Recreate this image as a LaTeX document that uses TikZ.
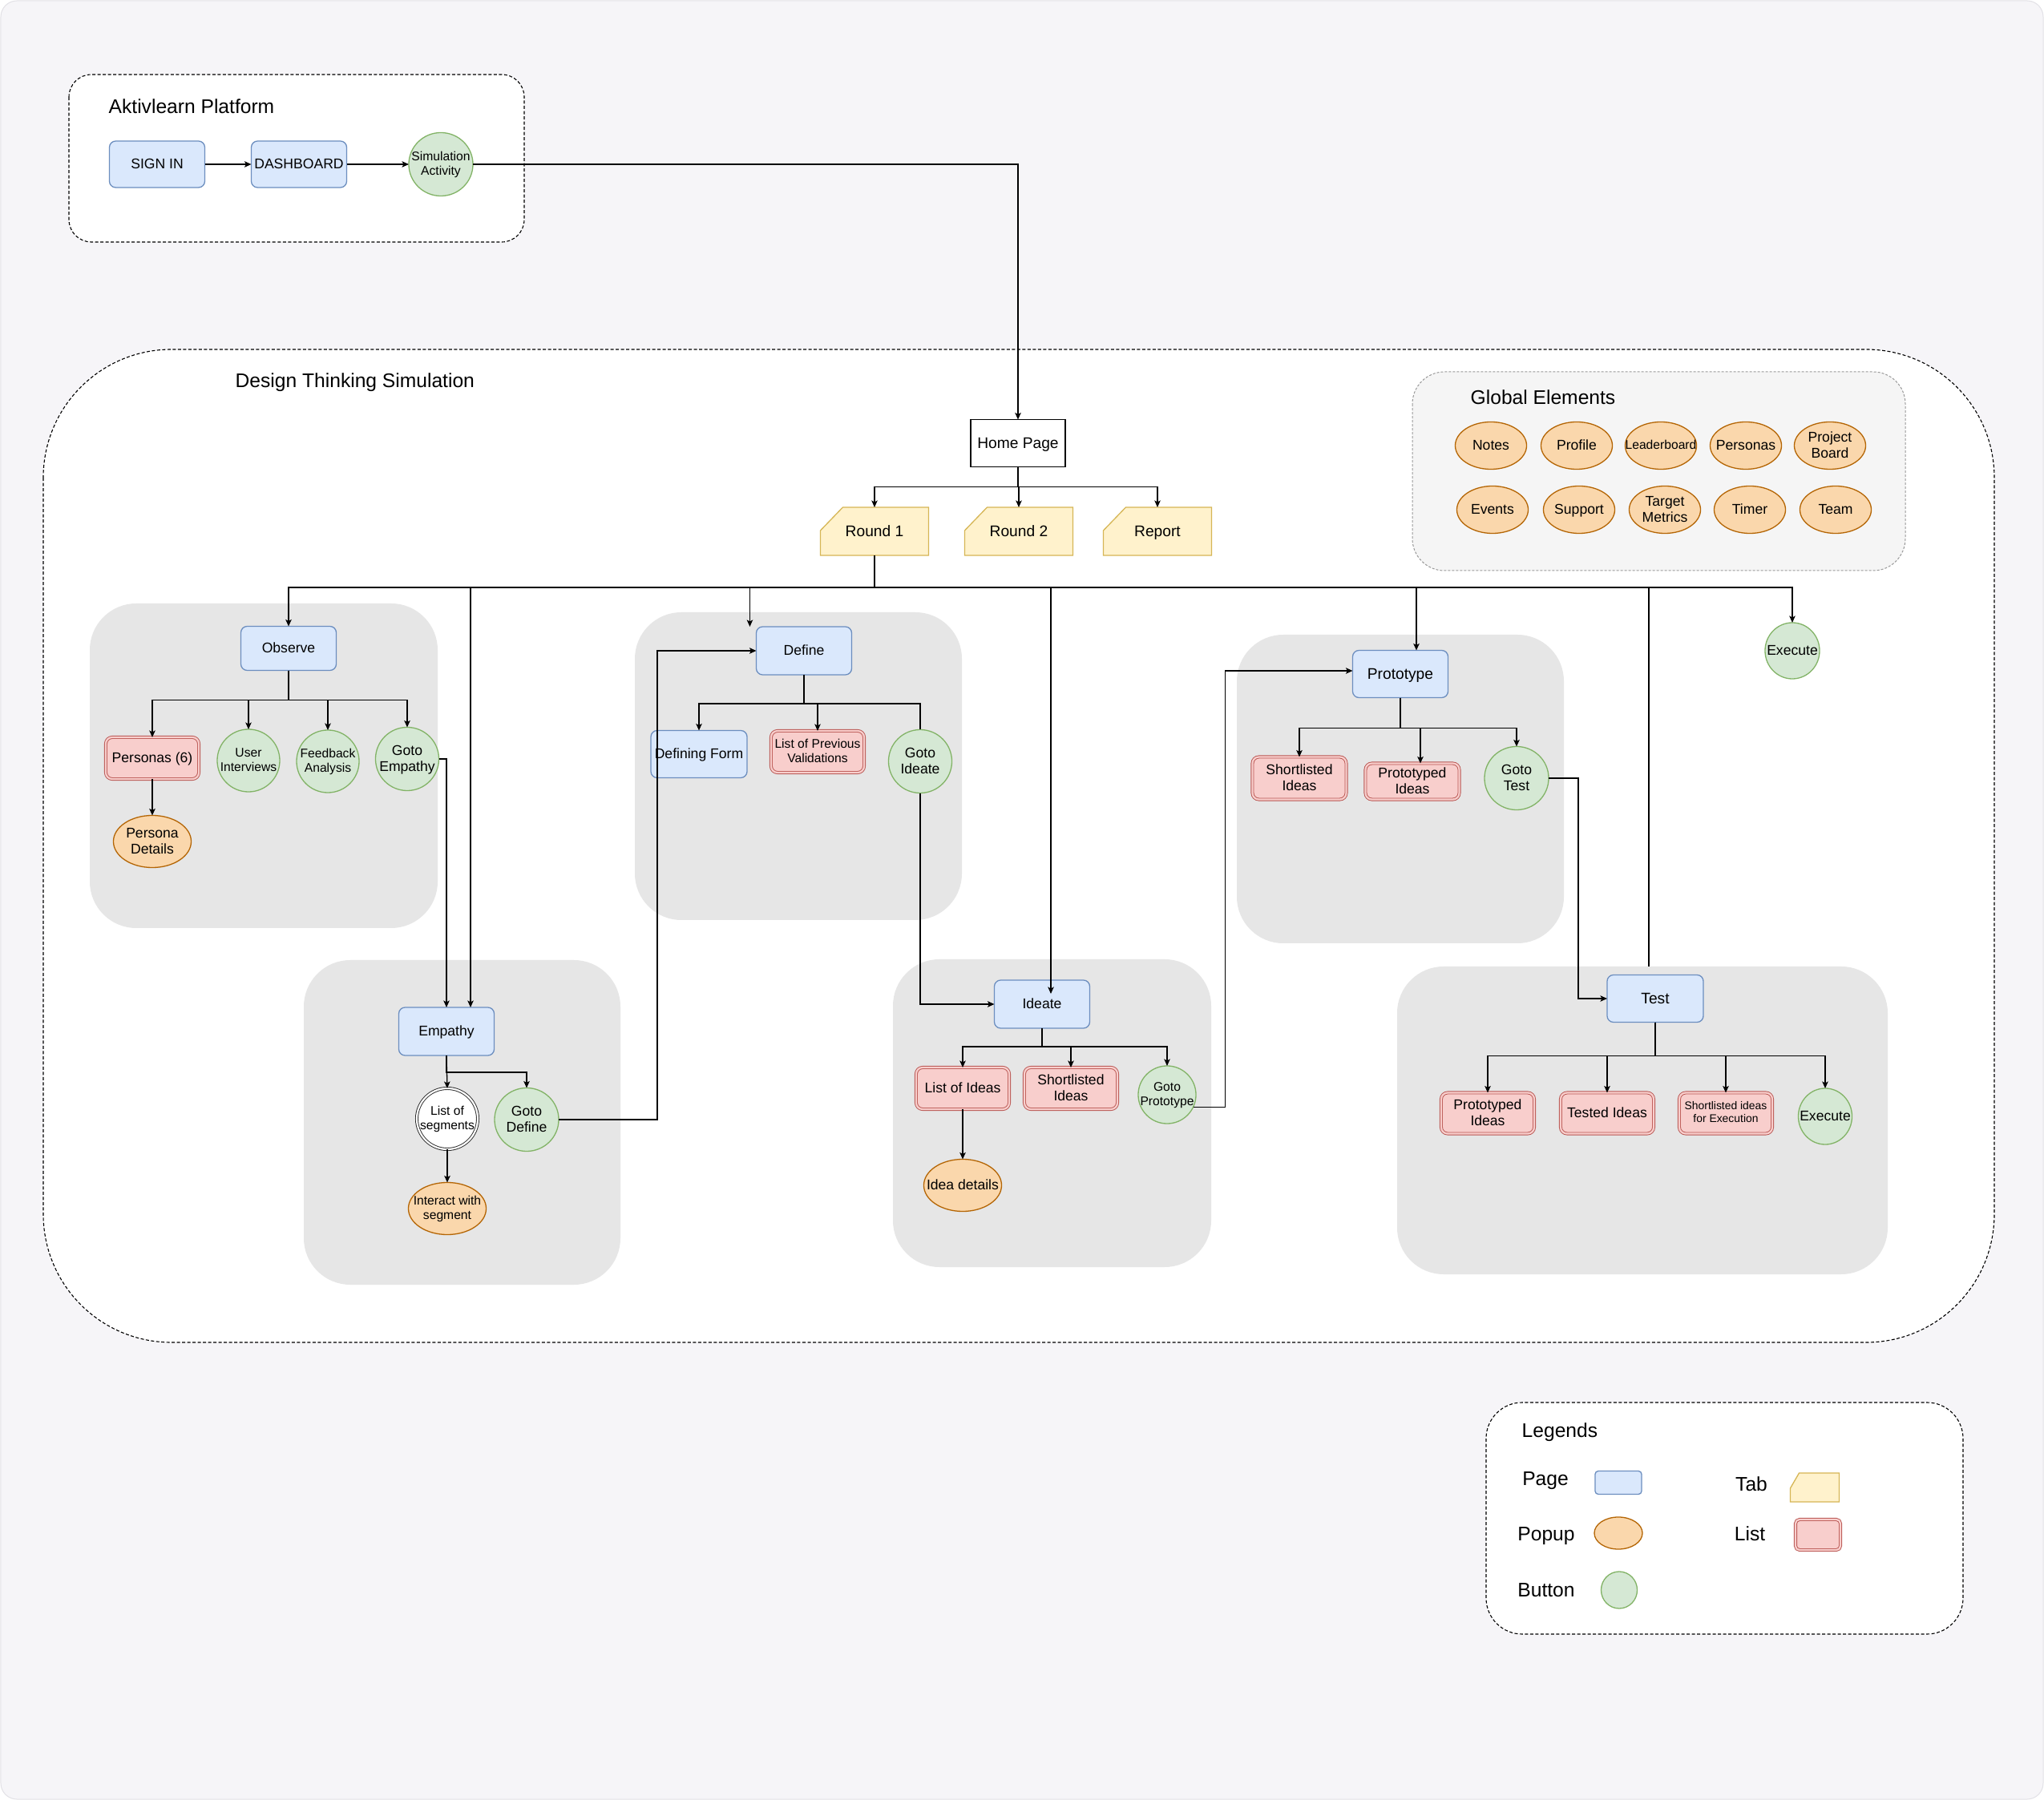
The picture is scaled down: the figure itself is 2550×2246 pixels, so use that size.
\documentclass[tikz,border=0pt]{standalone}
\usepackage{fontspec}
\setmainfont{Liberation Sans}
\usetikzlibrary{shapes.geometric,arrows.meta,calc}
\definecolor{pageF}{HTML}{DAE8FC}
\definecolor{pageS}{HTML}{6C8EBF}
\definecolor{popF}{HTML}{FAD7AC}
\definecolor{popS}{HTML}{B46504}
\definecolor{btnF}{HTML}{D5E8D4}
\definecolor{btnS}{HTML}{82B366}
\definecolor{tabF}{HTML}{FFF2CC}
\definecolor{tabS}{HTML}{D6B656}
\definecolor{listF}{HTML}{F8CECC}
\definecolor{listS}{HTML}{B85450}
\definecolor{grpF}{HTML}{E6E6E6}
\definecolor{globF}{HTML}{F5F5F5}
\definecolor{globS}{HTML}{999999}
\definecolor{bgF}{HTML}{F6F5F8}
\definecolor{bgS}{HTML}{E2E1E6}
\newcommand\fzA{\fontsize{5.46pt}{6.3pt}\selectfont}
\newcommand\fzB{\fontsize{5.0pt}{5.75pt}\selectfont}
\newcommand\fzC{\fontsize{4.45pt}{5.1pt}\selectfont}
\newcommand\fzE{\fontsize{3.95pt}{4.55pt}\selectfont}
\newcommand\fzT{\fontsize{7.0pt}{8.0pt}\selectfont}
\newcommand\ztxt[1]{\makebox[0pt]{\raisebox{-0.33em}[0pt][0pt]{\begin{tabular}{@{}c@{}}#1\end{tabular}}}}
\pgfdeclarelayer{back}
\pgfdeclarelayer{mid}
\pgfsetlayers{back,mid,main}
\begin{document}
\begin{tikzpicture}[x=0.01cm,y=-0.01cm,
  shp/.style={inner sep=0pt, outer sep=0pt, line width=0.013cm, align=center},
  page/.style={shp, rectangle, rounded corners=0.08cm, draw=pageS, fill=pageF, minimum width=1.19cm, minimum height=0.59cm, font=\fzB},
  listn/.style={shp, rectangle, rounded corners=0.08cm, draw=listS, double=listF, double distance=0.022cm, line width=0.009cm, fill=listF, minimum width=1.17cm, minimum height=0.53cm, font=\fzB},
  popup/.style={shp, ellipse, draw=popS, fill=popF, minimum width=0.97cm, minimum height=0.65cm, font=\fzB},
  button/.style={shp, ellipse, draw=btnS, fill=btnF, minimum width=0.79cm, minimum height=0.79cm, font=\fzB},
  gel/.style={popup, minimum width=0.89cm, minimum height=0.59cm},
  tabn/.style={shp, rectangle, minimum width=1.35cm, minimum height=0.60cm, font=\fzA},
  tabpoly/.style={fill=tabF, draw=tabS, line width=0.013cm},
  conn/.style={line width=0.013cm, draw=black},
  arr/.style={conn, -{Stealth[length=0.085cm, width=0.075cm, inset=0.02cm]}},
  cont/.style={draw=black, line width=0.011cm, dash pattern=on 0.04cm off 0.025cm, fill=white},
  grp/.style={fill=grpF, rounded corners=0.58cm},
  title/.style={anchor=base west, inner sep=0pt, font=\fzT},
  lbl/.style={anchor=base, inner sep=0pt, font=\fzT},
]
\useasboundingbox (0,0) rectangle (2550,2246);

% ---------- background, containers and groups ----------
\begin{pgfonlayer}{back}
\filldraw[fill=bgF, draw=bgS, line width=0.01cm, rounded corners=0.2cm] (1,1) rectangle (2549,2245);
\draw[cont, rounded corners=0.28cm] (86,93) rectangle (654,302);
\draw[cont, rounded corners=1.6cm] (54,436) rectangle (2488,1675);
\draw[fill=globF, draw=globS, line width=0.01cm, dash pattern=on 0.03cm off 0.02cm, rounded corners=0.4cm] (1762,464) rectangle (2377,712);
\draw[cont, rounded corners=0.45cm] (1854,1750) rectangle (2449,2039);
\fill[grp] (112,753) rectangle (546,1158);
\fill[grp] (792,764) rectangle (1200,1148);
\fill[grp] (1543,792) rectangle (1951,1177);
\fill[grp] (379,1198) rectangle (774,1603);
\fill[grp] (1114,1197) rectangle (1511,1581);
\fill[grp] (1743,1206) rectangle (2355,1590);
\end{pgfonlayer}

% ---------- titles ----------
\node[title] (tAkt) at (135,142) {Aktivlearn Platform};
\node[title] (tDts) at (293,484) {Design Thinking Simulation};
\node[title] (tGlob) at (1834,505) {Global Elements};
\node[title] (tLeg) at (1898,1793) {Legends};

% ---------- Aktivlearn platform ----------
\node[page, minimum height=0.58cm] (signin) at (196,205) {\ztxt{SIGN IN}};
\node[page, minimum height=0.58cm] (dash) at (373,205) {\ztxt{DASHBOARD}};
\node[button, minimum width=0.80cm, minimum height=0.79cm, font=\fzC] (sim) at (550,205) {\ztxt{Simulation\\Activity}};

% ---------- home and tabs ----------
\node[shp, rectangle, draw=black, fill=white, minimum width=1.18cm, minimum height=0.59cm, font=\fzA] (home) at (1270,553) {\ztxt{Home Page}};
\node[tabn] (r1) at (1091,663) {\ztxt{Round 1}};
\node[tabn] (r2) at (1271,663) {\ztxt{Round 2}};
\node[tabn] (rep) at (1444,663) {\ztxt{Report}};
\coordinate (testin) at (2057,1206);

% ---------- Observe ----------
\node[page, minimum height=0.55cm] (obs) at (360,809) {\ztxt{Observe}};
\node[listn, minimum width=1.16cm, minimum height=0.52cm] (pers) at (190,946) {\ztxt{Personas (6)}};
\node[button, minimum width=0.78cm, minimum height=0.78cm, font=\fzC] (ui) at (310,949) {\ztxt{User\\Interviews}};
\node[button, minimum width=0.78cm, minimum height=0.78cm, font=\fzC] (fa) at (409,950) {\ztxt{Feedback\\Analysis}};
\node[button, minimum width=0.79cm, minimum height=0.79cm] (ge) at (508,947) {\ztxt{Goto\\Empathy}};
\node[popup] (pd) at (190,1050) {\ztxt{Persona\\Details}};

% ---------- Define ----------
\node[page, minimum height=0.60cm] (def) at (1003,812) {\ztxt{Define}};
\node[page, minimum width=1.20cm] (dform) at (872,941) {\ztxt{Defining Form}};
\node[listn, minimum width=1.16cm, minimum height=0.52cm, font=\fzC] (lpv) at (1020,938) {\ztxt{List of Previous\\Validations}};
\node[button] (gi) at (1148,950) {\ztxt{Goto\\Ideate}};

% ---------- Prototype ----------
\node[page, font=\fzA] (proto) at (1747,841) {\ztxt{Prototype}};
\node[listn, minimum height=0.53cm] (psi) at (1621,971) {\ztxt{Shortlisted\\Ideas}};
\node[listn, minimum height=0.45cm] (ppi) at (1762,975) {\ztxt{Prototyped\\Ideas}};
\node[button, minimum width=0.80cm, minimum height=0.79cm] (gt) at (1892,971) {\ztxt{Goto\\Test}};

% ---------- Empathy ----------
\node[page, minimum height=0.60cm] (emp) at (557,1287) {\ztxt{Empathy}};
\node[shp, circle, draw=black!85, double=white, double distance=0.022cm, line width=0.009cm, fill=white, minimum size=0.76cm, font=\fzC] (seg) at (558,1396) {\ztxt{List of\\segments}};
\node[button, minimum width=0.80cm, minimum height=0.79cm] (gd) at (657,1397) {\ztxt{Goto\\Define}};
\node[popup, font=\fzC] (iws) at (558,1508) {\ztxt{Interact with\\segment}};

% ---------- Ideate ----------
\node[page, minimum height=0.60cm] (idt) at (1300,1253) {\ztxt{Ideate}};
\node[listn, minimum width=1.16cm, minimum height=0.52cm] (loi) at (1201,1358) {\ztxt{List of Ideas}};
\node[listn, minimum width=1.16cm, minimum height=0.52cm] (sli) at (1336,1358) {\ztxt{Shortlisted\\Ideas}};
\node[button, minimum width=0.72cm, minimum height=0.72cm, font=\fzC] (gp) at (1456,1366) {\ztxt{Goto\\Prototype}};
\node[popup] (idd) at (1201,1479) {\ztxt{Idea details}};

% ---------- Test ----------
\node[page, minimum width=1.20cm, font=\fzA] (test) at (2065,1246) {\ztxt{Test}};
\node[listn, minimum width=1.16cm, minimum height=0.51cm] (tpi) at (1856,1389) {\ztxt{Prototyped\\Ideas}};
\node[listn, minimum width=1.16cm, minimum height=0.51cm] (tti) at (2005,1389) {\ztxt{Tested Ideas}};
\node[listn, minimum width=1.16cm, minimum height=0.51cm, font=\fzE] (tse) at (2153,1389) {\ztxt{Shortlisted ideas\\for Execution}};
\node[button, minimum width=0.67cm, minimum height=0.70cm] (tex) at (2277,1393) {\ztxt{Execute}};

% ---------- Execute (top) ----------
\node[button, minimum width=0.68cm, minimum height=0.70cm] (exe) at (2236,812) {\ztxt{Execute}};

% ---------- Global elements ----------
\node[gel] (gNotes) at (1860,556) {\ztxt{Notes}};
\node[gel] (gProfile) at (1967,556) {\ztxt{Profile}};
\node[gel, font=\fzC] (gLead) at (2072,556) {\ztxt{Leaderboard}};
\node[gel] (gPers) at (2178,556) {\ztxt{Personas}};
\node[gel] (gProj) at (2283,556) {\ztxt{Project\\Board}};
\node[gel] (gEvents) at (1862,636) {\ztxt{Events}};
\node[gel] (gSupport) at (1970,636) {\ztxt{Support}};
\node[gel] (gTarget) at (2077,636) {\ztxt{Target\\Metrics}};
\node[gel] (gTimer) at (2183,636) {\ztxt{Timer}};
\node[gel] (gTeam) at (2290,636) {\ztxt{Team}};

% ---------- Legends ----------
\node[lbl] (lPage) at (1928,1853) {Page};
\node[lbl] (lPopup) at (1929,1922) {Popup};
\node[lbl] (lButton) at (1929,1992) {Button};
\node[lbl] (lTab) at (2185,1860) {Tab};
\node[lbl] (lList) at (2183,1922) {List};
\node[page, minimum width=0.58cm, minimum height=0.29cm, rounded corners=0.04cm] (lgPage) at (2019,1850) {};
\node[popup, minimum width=0.60cm, minimum height=0.40cm] (lgPopup) at (2019,1913) {};
\node[button, minimum width=0.45cm, minimum height=0.46cm] (lgButton) at (2020,1984) {};
\node[shp, rectangle, minimum width=0.61cm, minimum height=0.36cm] (lgTab) at (2264,1856) {};
\node[listn, minimum width=0.56cm, minimum height=0.38cm, rounded corners=0.05cm] (lgList) at (2268,1915) {};

% ---------- tab shapes ----------
\begin{pgfonlayer}{mid}
\foreach \t in {r1,r2,rep}{
  \filldraw[tabpoly] (\t.south west) -- (\t.south east) -- (\t.north east)
    -- ([xshift=0.28cm]\t.north west) -- ([yshift=-0.29cm]\t.north west) -- cycle;
}
\filldraw[tabpoly] (lgTab.south west) -- (lgTab.south east) -- (lgTab.north east)
    -- ([xshift=0.11cm]lgTab.north west) -- ([yshift=-0.19cm]lgTab.north west) -- cycle;
\end{pgfonlayer}

% ---------- connectors ----------
\draw[arr] (signin) -- (dash);
\draw[arr] (dash) -- (sim);
\draw[arr] (sim.east) -| (home.north);

\draw[arr] (home.south) -- ++(0,25) -| (r1.north);
\draw[arr] (home.south) -- ++(0,25) -| (r2.north);
\draw[arr] (home.south) -- ++(0,25) -| (rep.north);

\draw[arr] (r1.south) -- ++(0,40) -| (obs.north);
\draw[arr] (r1.south) -- ++(0,40) -| ([xshift=0.3cm]emp.north);
\draw[arr] (r1.south) -- ++(0,40) -| ([xshift=-0.08cm]def.north west);
\draw[arr] (r1.south) -- ++(0,40) -| ([xshift=0.11cm,yshift=-0.17cm]idt.north);
\draw[arr] (r1.south) -- ++(0,40) -| ([xshift=0.2cm]proto.north);
\draw[conn] (r1.south) -- ++(0,40) -| (testin);
\draw[arr] (r1.south) -- ++(0,40) -| (exe.north);

\draw[arr] (obs.south) -- ++(0,37) -| (pers.north);
\draw[arr] (obs.south) -- ++(0,37) -| (ui.north);
\draw[arr] (obs.south) -- ++(0,37) -| (fa.north);
\draw[arr] (obs.south) -- ++(0,37) -| (ge.north);
\draw[arr] (pers.south) -- (pd.north);
\draw[arr] (ge.east) -| (emp.north);

\draw[arr] (def.south) -- ++(0,36) -| (dform.north);
\draw[arr] (def.south) -- ++(0,36) -| (lpv.north);
\draw[conn] (def.south) -- ++(0,36) -| (gi.north);
\draw[arr] (gi.south) |- (idt.west);

\draw[arr] (emp.south) -- (seg.north);
\draw[arr] (emp.south) -- ++(0,21) -| (gd.north);
\draw[arr] (seg.south) -- (iws.north);
\draw[arr] (gd.east) -- ++(123,0) |- (def.west);

\draw[arr] (idt.south) -- ++(0,23) -| (loi.north);
\draw[arr] (idt.south) -- ++(0,23) -| (sli.north);
\draw[arr] (idt.south) -- ++(0,23) -| (gp.north);
\draw[arr] (loi.south) -- (idd.north);
\draw[arr] (gp.-25) -- ++(40,0) |- ([yshift=0.04cm]proto.west);

\draw[arr] (proto.south) -- ++(0,38) -| (psi.north);
\draw[arr] (proto.south) -- ++(0,38) -| ([xshift=0.1cm]ppi.north);
\draw[arr] (proto.south) -- ++(0,38) -| (gt.north);
\draw[arr] (gt.east) -- ++(37,0) |- (test.west);

\draw[arr] (test.south) -- ++(0,42) -| (tpi.north);
\draw[arr] (test.south) -- ++(0,42) -| (tti.north);
\draw[arr] (test.south) -- ++(0,42) -| (tse.north);
\draw[arr] (test.south) -- ++(0,42) -| (tex.north);
\end{tikzpicture}
\end{document}
